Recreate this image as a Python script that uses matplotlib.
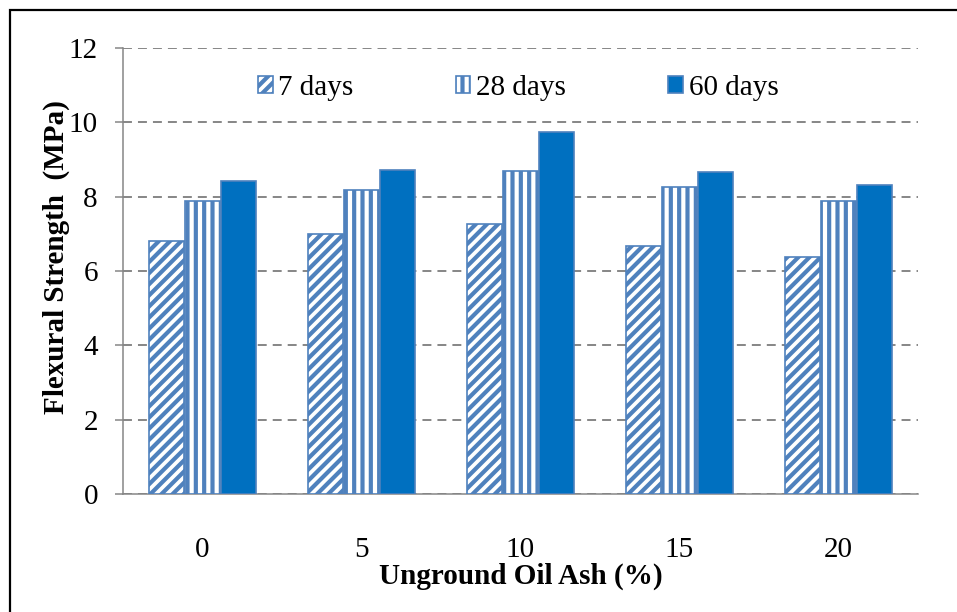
import matplotlib
matplotlib.use("Agg")
import matplotlib.pyplot as plt
import numpy as np
from matplotlib.patches import Rectangle

categories = ["0", "5", "10", "15", "20"]
series_names = ["7 days", "28 days", "60 days"]
days7 = [6.81, 7.00, 7.26, 6.68, 6.38]
days28 = [7.89, 8.18, 8.69, 8.26, 7.87]
days60 = [8.43, 8.72, 9.74, 8.66, 8.32]
yticks = [0, 2, 4, 6, 8, 10, 12]

plt.rcParams['font.family'] = ['Liberation Serif', 'DejaVu Serif']
plt.rcParams['hatch.linewidth'] = 3.0
plt.rcParams['hatch.color'] = '#4F81BD'

fig = plt.figure(figsize=(9.57, 6.12), dpi=100)
ax = fig.add_axes([123/957, 1-494/612, (918-123)/957, (494-48)/612])

x = np.arange(len(categories))
w = 0.22
off = 0.225
edge = '#4F81BD'
b1 = ax.bar(x - off, days7, w, color='white', edgecolor=edge, hatch='///', linewidth=1.2, label=series_names[0], zorder=3)
b2 = ax.bar(x, days28, w, color='white', edgecolor=edge, hatch='||', linewidth=1.2, label=series_names[1], zorder=3)
b3 = ax.bar(x + off, days60, w, color='#0070C0', edgecolor=edge, linewidth=1.2, label=series_names[2], zorder=3)

ax.set_xlim(-0.5, len(categories) - 0.5)
ax.set_ylim(0, 12)
ax.set_yticks(yticks)
ax.set_xticks(x)
ax.set_xticklabels(categories)

grid_col = '#868686'
ax.set_axisbelow(True)
ax.yaxis.grid(True, color=grid_col, linewidth=1.4, linestyle=(0, (4.6, 3.1)))
for s in ['top', 'right']:
    ax.spines[s].set_visible(False)
for s in ['left', 'bottom']:
    ax.spines[s].set_color(grid_col)
    ax.spines[s].set_linewidth(1.1)

fs = 21
ax.tick_params(axis='y', length=6, width=1.1, color=grid_col, pad=12, labelsize=fs)
ax.tick_params(axis='x', length=0, pad=31, labelsize=fs)

ax.set_xlabel('Unground Oil Ash (%)', fontsize=fs, fontweight='bold', labelpad=0)
ax.set_ylabel('Flexural Strength  (MPa)', fontsize=fs, fontweight='bold')
ax.yaxis.set_label_coords(-0.067, 0.531)

leg = ax.legend(loc='center', bbox_to_anchor=(0.497, 0.91), ncol=3, frameon=False,
                fontsize=fs, handlelength=0.5, handleheight=0.5, handletextpad=0.2,
                columnspacing=3.5)

# outer frame
fig.patches.append(Rectangle((10/957, -0.1), 1.2, 1 - 10/612 + 0.1, transform=fig.transFigure,
                             fill=False, edgecolor='black', linewidth=1.6, clip_on=False))

fig.savefig('out.png', dpi=100)
